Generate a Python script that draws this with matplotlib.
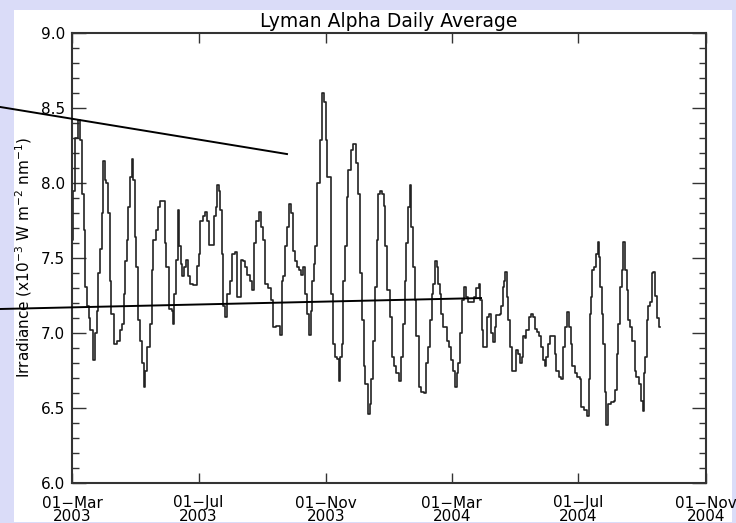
import numpy as np
import pandas as pd
import matplotlib
matplotlib.use('Agg')
from matplotlib import pyplot as plt
from matplotlib.patches import Rectangle

# daily Lyman alpha irradiance (day after 2003-03-01, value)
start = pd.Timestamp('2003-03-01')
day_offset = [0, 1, 3, 6, 8, 10, 12, 13, 14, 16, 17, 20, 22, 24, 25, 27, 29, 30, 32, 33,
              35, 37, 38, 40, 43, 46, 48, 50, 51, 53, 54, 56, 58, 59, 61, 62, 64, 66, 67, 69,
              70, 72, 75, 77, 78, 81, 83, 85, 88, 90, 91, 93, 96, 97, 98, 100, 102, 103, 105, 106,
              108, 110, 112, 114, 117, 120, 122, 123, 126, 128, 130, 132, 137, 139, 140, 142, 143, 145, 146, 147,
              149, 152, 154, 157, 159, 163, 165, 167, 169, 172, 173, 175, 177, 180, 182, 184, 186, 189, 192, 194,
              197, 200, 202, 203, 205, 207, 209, 211, 213, 215, 217, 219, 221, 223, 225, 226, 228, 230, 231, 233,
              234, 236, 239, 241, 243, 245, 246, 250, 252, 253, 255, 257, 258, 260, 261, 263, 265, 266, 269, 271,
              274, 276, 278, 279, 281, 282, 285, 287, 288, 290, 292, 294, 295, 297, 299, 301, 302, 304, 306, 308,
              310, 312, 315, 317, 319, 321, 322, 324, 326, 327, 329, 331, 332, 334, 336, 339, 341, 343, 345, 347,
              348, 350, 352, 353, 355, 356, 358, 361, 363, 365, 367, 369, 371, 372, 374, 376, 378, 380, 382, 387,
              389, 392, 393, 395, 396, 400, 402, 404, 406, 408, 409, 412, 413, 415, 416, 417, 419, 420, 422, 424,
              428, 430, 432, 434, 435, 437, 438, 440, 442, 444, 446, 448, 450, 452, 454, 456, 457, 459, 461, 465,
              466, 469, 471, 473, 475, 477, 479, 481, 482, 485, 487, 490, 491, 493, 496, 498, 499, 500, 501, 503,
              505, 507, 508, 509, 511, 512, 514, 515, 517, 519, 522, 523, 525, 526, 528, 530, 531, 533, 535, 536,
              538, 540, 543, 544, 546, 548, 550, 551, 552, 554, 555, 557, 559, 560, 562, 564, 566, 567]
irradiance = [7.62, 7.95, 8.30, 8.42, 8.29, 7.93, 7.69, 7.31, 7.18, 7.10, 7.02, 6.82, 7.00, 7.15, 7.40, 7.56, 7.80, 8.15, 8.02, 8.00,
              7.80, 7.35, 7.13, 6.93, 6.95, 7.02, 7.06, 7.26, 7.48, 7.62, 7.84, 8.04, 8.16, 8.02, 7.64, 7.44, 7.09, 6.95, 6.80, 6.64,
              6.75, 6.91, 7.06, 7.42, 7.62, 7.69, 7.84, 7.88, 7.88, 7.60, 7.44, 7.16, 7.15, 7.06, 7.26, 7.49, 7.82, 7.58, 7.46, 7.38,
              7.44, 7.49, 7.38, 7.33, 7.32, 7.45, 7.53, 7.75, 7.78, 7.81, 7.75, 7.59, 7.78, 7.84, 7.99, 7.95, 7.82, 7.53, 7.18, 7.11,
              7.26, 7.35, 7.53, 7.54, 7.24, 7.49, 7.48, 7.44, 7.39, 7.35, 7.29, 7.60, 7.75, 7.81, 7.71, 7.62, 7.33, 7.30, 7.22, 7.04,
              7.05, 6.99, 7.35, 7.38, 7.58, 7.71, 7.86, 7.80, 7.55, 7.48, 7.44, 7.42, 7.39, 7.44, 7.26, 7.13, 6.99, 7.15, 7.35, 7.46,
              7.58, 8.00, 8.29, 8.60, 8.54, 8.29, 8.04, 7.26, 6.93, 6.84, 6.83, 6.68, 6.84, 6.93, 7.35, 7.58, 7.91, 8.09, 8.22, 8.26,
              8.13, 7.93, 7.40, 7.09, 6.78, 6.66, 6.46, 6.53, 6.69, 6.95, 7.31, 7.62, 7.93, 7.95, 7.93, 7.85, 7.58, 7.29, 7.11, 6.84,
              6.78, 6.73, 6.68, 6.84, 7.06, 7.35, 7.60, 7.84, 7.99, 7.71, 7.44, 7.22, 6.98, 6.64, 6.61, 6.60, 6.80, 6.91, 7.09, 7.26,
              7.33, 7.48, 7.44, 7.33, 7.26, 7.13, 7.04, 6.95, 6.91, 6.82, 6.75, 6.64, 6.73, 6.80, 7.00, 7.22, 7.31, 7.24, 7.21, 7.24,
              7.30, 7.33, 7.22, 7.02, 6.91, 7.11, 7.13, 7.00, 6.94, 7.04, 7.12, 7.13, 7.18, 7.31, 7.35, 7.41, 7.24, 7.09, 6.91, 6.75,
              6.89, 6.86, 6.80, 6.84, 6.98, 6.97, 7.02, 7.11, 7.13, 7.11, 7.03, 7.01, 6.98, 6.91, 6.82, 6.78, 6.84, 6.93, 6.98, 6.86,
              6.75, 6.71, 6.69, 6.91, 7.04, 7.14, 7.04, 6.93, 6.78, 6.73, 6.71, 6.69, 6.51, 6.49, 6.45, 6.69, 7.13, 7.24, 7.42, 7.44,
              7.53, 7.61, 7.51, 7.31, 7.13, 6.93, 6.61, 6.39, 6.53, 6.54, 6.55, 6.62, 6.86, 7.06, 7.31, 7.42, 7.61, 7.42, 7.29, 7.09,
              7.04, 6.95, 6.75, 6.71, 6.66, 6.55, 6.48, 6.73, 6.84, 7.09, 7.18, 7.21, 7.40, 7.41, 7.25, 7.10, 7.04, 7.04]

tick_dates = ['2003-03-01', '2003-07-01', '2003-11-01', '2004-03-01', '2004-07-01', '2004-11-01']
tick_labels = ['01\u2212Mar\n2003', '01\u2212Jul\n2003', '01\u2212Nov\n2003',
               '01\u2212Mar\n2004', '01\u2212Jul\n2004', '01\u2212Nov\n2004']

# the two stray pointer lines that run in from the left edge
pointer1_day = [-69.4, 207.2]
pointer1_val = [8.507, 8.193]
pointer2_day = [-69.4, 394.2]
pointer2_val = [7.160, 7.233]

dates = start + pd.to_timedelta(day_offset, unit='D')

fig = plt.figure(figsize=(7.36, 5.23), dpi=100)
fig.patch.set_facecolor('#dadcf8')
fig.add_artist(Rectangle((14 / 736, 1 - 522 / 523), 718 / 736, 512 / 523,
                         transform=fig.transFigure, facecolor='white', edgecolor='none', zorder=0))

ax = fig.add_axes([72 / 736, 1 - 483 / 523, 634 / 736, 450 / 523])
ax.step(dates, irradiance, where='post', color='#222222', lw=1.2)

ax.plot(start + pd.to_timedelta(pointer1_day, unit='D'), pointer1_val, color='black', lw=1.4,
        clip_on=False, zorder=5)
ax.plot(start + pd.to_timedelta(pointer2_day, unit='D'), pointer2_val, color='black', lw=1.4,
        clip_on=False, zorder=5)

ax.set_xlim(pd.Timestamp(tick_dates[0]), pd.Timestamp(tick_dates[-1]))
ax.set_ylim(6.0, 9.0)
ax.set_xticks(pd.to_datetime(tick_dates))
ax.set_xticklabels(tick_labels, fontsize=11, linespacing=0.85)
ax.set_yticks(np.arange(6.0, 9.01, 0.5))
ax.set_yticklabels(['%.1f' % v for v in np.arange(6.0, 9.01, 0.5)], fontsize=11)
ax.set_yticks(np.arange(6.0, 9.01, 0.1), minor=True)
ax.tick_params(axis='x', direction='in', length=7, width=1, top=True, pad=9, colors='#333333',
               labelcolor='black')
ax.tick_params(axis='y', which='major', direction='in', length=10, width=1, right=True, pad=5,
               colors='#333333', labelcolor='black')
ax.tick_params(axis='y', which='minor', direction='in', length=5, width=1, right=True, colors='#333333')
for s in ax.spines.values():
    s.set_linewidth(1.5)
    s.set_color('#333333')

ax.set_ylabel('Irradiance (x10$^{-3}$ W m$^{-2}$ nm$^{-1}$)', fontsize=11, labelpad=5)
ax.set_title('Lyman Alpha Daily Average', fontsize=13.5, pad=4)

plt.savefig('out.png', dpi=100, facecolor=fig.get_facecolor())
